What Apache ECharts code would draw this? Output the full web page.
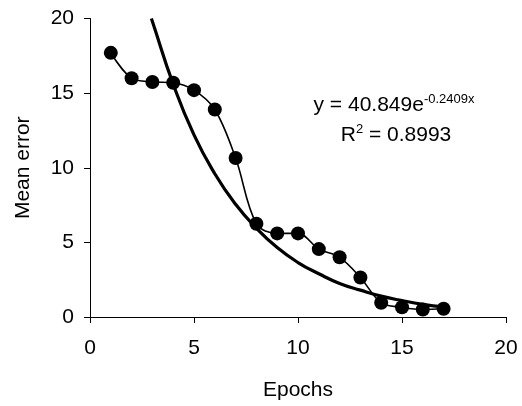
<!DOCTYPE html>
<html><head><meta charset="utf-8">
<script src="https://cdn.jsdelivr.net/npm/echarts@6/dist/echarts.min.js"></script>
<style>html,body{margin:0;padding:0;background:#fff}#c{width:522px;height:406px}</style>
</head><body><div id="c"></div>
<script>
const epochs = [1,2,3,4,5,6,7,8,9,10,11,12,13,14,15,16,17];
const meanError = [17.7,16.0,15.75,15.7,15.2,13.9,10.65,6.25,5.6,5.6,4.55,4.0,2.65,0.95,0.65,0.5,0.55];
const trendX = [2.95,3,4,5,6,7,8,9,10,11,12,13,14,15,16,17];
const trendY = [20.0,19.8,15.6,12.2,9.6,7.55,5.95,4.65,3.65,2.9,2.25,1.8,1.4,1.1,0.85,0.68];
const xTicks = [0,5,10,15,20];
const yTicks = [0,5,10,15,20];
const equationText = 'y = 40.849e{sup|-0.2409x}';
const r2Text = 'R{sup|2} = 0.8993';

const font = 'Liberation Sans, Arial, sans-serif';
const chart = echarts.init(document.getElementById('c'), null, {renderer:'canvas'});
chart.setOption({
  animation:false,
  backgroundColor:'#fff',
  grid:{left:90,right:16,top:18.5,bottom:88,containLabel:false},
  xAxis:{type:'value',min:xTicks[0],max:xTicks[xTicks.length-1],interval:5,
    name:'Epochs',nameLocation:'middle',nameGap:63,
    nameTextStyle:{fontFamily:font,fontSize:21,color:'#000'},
    axisLine:{show:true,onZero:false,lineStyle:{color:'#000',width:1}},
    axisTick:{show:true,length:6,inside:false,lineStyle:{color:'#000'}},
    axisLabel:{fontFamily:font,fontSize:21,color:'#000',margin:21},
    splitLine:{show:false}},
  yAxis:{type:'value',min:yTicks[0],max:yTicks[yTicks.length-1],interval:5,
    name:'Mean error',nameLocation:'middle',nameGap:56,nameRotate:90,
    nameTextStyle:{fontFamily:font,fontSize:21,color:'#000'},
    axisLine:{show:true,lineStyle:{color:'#000',width:1}},
    axisTick:{show:true,length:6,lineStyle:{color:'#000'}},
    axisLabel:{fontFamily:font,fontSize:21,color:'#000',margin:16},
    splitLine:{show:false}},
  series:[
    {type:'line',data:trendX.map((x,i)=>[x,trendY[i]]),smooth:true,showSymbol:false,
     clip:true,lineStyle:{color:'#000',width:3.2},z:2},
    {type:'line',data:epochs.map((x,i)=>[x,meanError[i]]),smooth:0.35,symbol:'circle',symbolSize:14,
     itemStyle:{color:'#000'},lineStyle:{color:'#000',width:1.6},z:3}
  ],
  graphic:[
    {type:'text',x:394,y:105,style:{text:equationText,fontFamily:font,fontSize:21,fill:'#000',
      align:'center',verticalAlign:'middle',
      rich:{sup:{fontSize:13,fontFamily:font,padding:[0,0,12,0]}}}},
    {type:'text',x:396,y:135,style:{text:r2Text,fontFamily:font,fontSize:21,fill:'#000',
      align:'center',verticalAlign:'middle',
      rich:{sup:{fontSize:13,fontFamily:font,padding:[0,0,12,0]}}}}
  ]
});
</script></body></html>
